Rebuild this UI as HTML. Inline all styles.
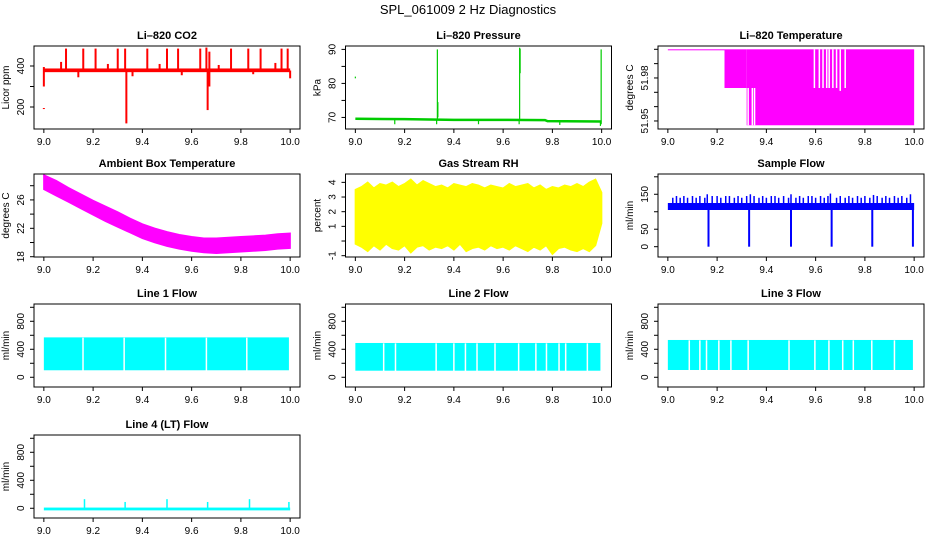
<!DOCTYPE html>
<html><head><meta charset="utf-8"><style>
body{margin:0;background:#fff;}
svg{display:block;font-family:"Liberation Sans",sans-serif;}
</style></head><body>
<svg id="chart" width="936" height="540" viewBox="0 0 936 540">
<text x="468" y="14" text-anchor="middle" font-size="13">SPL_061009  2 Hz Diagnostics</text>
</svg>
<script>
// ---------- data ----------
const xTicks = [9.0, 9.2, 9.4, 9.6, 9.8, 10.0];
const xTickLabels = ["9.0", "9.2", "9.4", "9.6", "9.8", "10.0"];

// CO2
const co2Base = [378, 370, 388];
const co2Spikes = [[9.0,300,395],[9.09,378,485],[9.16,378,485],[9.21,378,485],[9.30,378,485],[9.33,378,485],[9.335,120,378],[9.42,378,485],[9.50,378,485],[9.545,378,485],[9.635,378,485],[9.66,378,490],[9.665,185,378],[9.672,300,470],[9.76,378,485],[9.83,378,485],[9.88,378,485],[9.965,378,485],[9.99,378,485],[10.0,340,378],[9.07,378,420],[9.14,345,378],[9.26,378,410],[9.36,350,378],[9.47,378,410],[9.56,355,378],[9.71,378,405],[9.85,360,378],[9.94,378,415],[9.0,190,195]];
// Pressure
const presX = [9.0, 9.2, 9.4, 9.6, 9.77, 9.78, 10.0];
const presY = [69.6, 69.5, 69.3, 69.3, 69.2, 68.9, 68.8];
const presSpikes = [[9.333,69.3,90],[9.335,70,74.5],[9.667,69.3,90.5],[9.669,83,90.2],[9.998,68,90],[9.16,68,69.5],[9.33,68,69.5],[9.5,68,69.3],[9.665,68,69.3],[9.83,67.8,69],[9.995,67.5,69],[9.0,81.5,82]];
// Li-820 temperature
const tempBlocks = [[9.0,9.23,51.9995,52.0],[9.23,9.32,51.973,52.0],[9.32,10.0,51.947,52.0]];
const tempGaps = [[9.326,51.947,51.973],[9.343,51.947,51.973],[9.352,51.947,51.973],[9.595,51.973,52.0],[9.615,51.973,52.0],[9.63,51.973,52.0],[9.645,51.973,52.0],[9.655,51.973,52.0],[9.67,51.973,52.0],[9.685,51.973,52.0],[9.70,51.971,52.0],[9.72,51.973,52.0]];
// Ambient box temperature
const ambX = [9.0,9.05,9.1,9.15,9.2,9.25,9.3,9.35,9.4,9.45,9.5,9.55,9.6,9.65,9.7,9.75,9.8,9.85,9.9,9.95,10.0];
const ambHigh = [29.5,28.7,27.7,26.8,25.9,25.1,24.3,23.4,22.6,22.0,21.5,21.1,20.8,20.6,20.6,20.7,20.8,20.9,21.0,21.2,21.3];
const ambLow = [27.5,26.6,25.7,24.8,23.9,23.0,22.2,21.4,20.6,20.0,19.5,19.1,18.8,18.6,18.5,18.6,18.7,18.8,18.9,19.1,19.2];
// Gas stream RH
const rhX = [9.0,9.025,9.05,9.075,9.1,9.125,9.15,9.175,9.2,9.225,9.25,9.275,9.3,9.325,9.35,9.375,9.4,9.425,9.45,9.475,9.5,9.525,9.55,9.575,9.6,9.625,9.65,9.675,9.7,9.725,9.75,9.775,9.8,9.825,9.85,9.875,9.9,9.925,9.95,9.975,10.0];
const rhHigh = [3.5,3.7,4.0,3.6,3.9,3.8,4.0,3.7,3.9,4.2,3.8,4.1,3.9,3.7,3.8,3.6,3.9,3.8,3.7,3.9,3.8,3.6,3.8,3.7,3.6,3.9,3.7,3.8,3.9,3.6,3.8,3.5,3.7,3.6,3.8,3.7,3.9,3.7,4.0,4.2,3.3];
const rhLow = [-0.2,-0.4,-0.7,-0.3,-0.6,-0.2,-0.5,-0.6,-0.3,-0.8,-0.4,-0.3,-0.6,-0.4,-0.5,-0.3,-0.6,-0.2,-0.7,-0.5,-0.4,-0.6,-0.3,-0.5,-0.4,-0.6,-0.3,-0.5,-0.7,-0.4,-0.6,-0.3,-0.9,-0.5,-0.4,-0.6,-0.7,-0.5,-0.7,-0.3,1.2];
// Sample flow
const sfBase = [105, 125];
const sfUp = [9.02,9.035,9.05,9.065,9.08,9.1,9.115,9.13,9.15,9.16,9.18,9.2,9.215,9.235,9.25,9.27,9.285,9.3,9.32,9.335,9.35,9.37,9.385,9.4,9.42,9.435,9.45,9.47,9.49,9.5,9.52,9.535,9.55,9.57,9.585,9.6,9.62,9.635,9.65,9.66,9.685,9.7,9.72,9.735,9.75,9.77,9.785,9.8,9.82,9.835,9.85,9.87,9.885,9.9,9.92,9.935,9.95,9.97,9.985];
const sfUpVal = [140,145,140,145,140,145,140,145,140,150,145,145,140,145,145,140,145,140,145,150,145,140,145,140,145,145,140,145,140,150,140,145,140,145,145,140,145,140,145,152,140,145,140,145,140,145,140,145,140,148,145,140,145,140,145,140,145,140,150];
const sfDown = [9.165, 9.33, 9.5, 9.665, 9.83, 9.995];
// Line flows
const l1Band = [100, 570];
const l1Gaps = [9.159, 9.326, 9.494, 9.66, 9.824];
const l2Band = [94, 490];
const l2Gaps = [9.115, 9.163, 9.328, 9.40, 9.447, 9.494, 9.567, 9.663, 9.733, 9.776, 9.827, 9.854, 9.942];
const l3Band = [104, 533];
const l3Gaps = [9.087, 9.13, 9.157, 9.207, 9.256, 9.326, 9.492, 9.597, 9.654, 9.71, 9.753, 9.828, 9.92];
const l4Base = -10;
const l4Spikes = [[9.165,130],[9.33,90],[9.5,130],[9.665,90],[9.835,130],[9.995,90]];

// ---------- drawing ----------
const svg = document.getElementById('chart');
const NS = 'http://www.w3.org/2000/svg';
function mk(tag, attrs, parent){
  const e = document.createElementNS(NS, tag);
  for (const k in attrs) e.setAttribute(k, attrs[k]);
  (parent||svg).appendChild(e);
  return e;
}
const colL = [34, 345.5, 658], rowT = [46, 174, 304, 435], W = 266, H = 83;

function panel(col, row, title, ylab, ydom, yticks, ylabels, name){
  const L = colL[col], T = rowT[row];
  const g = mk('g', {});
  
  
  const sx = v => L + (v - 8.96) / 1.08 * W;
  const sy = v => T + H - (v - ydom[0]) / (ydom[1] - ydom[0]) * H;
  const t = mk('text', {x: L + W/2, y: T - 7, 'text-anchor':'middle', 'font-size':11, 'font-weight':'bold'}, g);
  t.textContent = title;
  
  
  const yl = mk('text', {x: 0, y: 0, transform:`translate(${L-25},${T+H/2}) rotate(-90)`, 'text-anchor':'middle', 'font-size':10}, g);
  yl.textContent = ylab;
  
  
  const plot = mk('g', {}, g);
  
  
  const axes = mk('g', {stroke:'#000', 'stroke-width':1, fill:'none'}, g);
  
  
  mk('rect', {x: L, y: T, width: W, height: H}, axes);
  xTicks.forEach((v, i) => {
    mk('line', {x1: sx(v), x2: sx(v), y1: T+H, y2: T+H+4}, axes);
    const tl = mk('text', {x: sx(v), y: T+H+16, 'text-anchor':'middle', 'font-size':10, stroke:'none', fill:'#000'}, g);
    tl.textContent = xTickLabels[i];
    
    
  });
  yticks.forEach(v => {
    mk('line', {x1: L-4, x2: L, y1: sy(v), y2: sy(v)}, axes);
  });
  ylabels.forEach(v => {
    const tl = mk('text', {x: 0, y: 0, transform:`translate(${L-10},${sy(v)}) rotate(-90)`, 'text-anchor':'middle', 'font-size':10, fill:'#000'}, g);
    tl.textContent = String(v);
    
    
  });
  return {sx, sy, plot};
}
function vline(p, x, y0, y1, color, w){
  const l = mk('line', {x1: p.sx(x), x2: p.sx(x), y1: p.sy(y0), y2: p.sy(y1), stroke: color, 'stroke-width': w||1.5}, p.plot);
  
  
}
function rectD(p, x0, x1, y0, y1, color, nm){
  const r = mk('rect', {x: p.sx(x0), y: p.sy(y1), width: Math.max(1, p.sx(x1)-p.sx(x0)), height: Math.max(1, p.sy(y0)-p.sy(y1)), fill: color}, p.plot);
  
  
}
function band(p, xs, hi, lo, color, nm){
  let d = xs.map((x,i)=>(i?'L':'M')+p.sx(x).toFixed(1)+','+p.sy(hi[i]).toFixed(1)).join('');
  for (let i = xs.length-1; i >= 0; i--) d += 'L'+p.sx(xs[i]).toFixed(1)+','+p.sy(lo[i]).toFixed(1);
  const e = mk('path', {d: d+'Z', fill: color, stroke: color, 'stroke-width':1.5}, p.plot);
  
  
}

// CO2
let p = panel(0, 0, 'Li\u2013820 CO2', 'Licor ppm', [92.7, 497.6], [200,300,400], [200,400], 'co2');
rectD(p, 9.0, 10.0, co2Base[1], co2Base[2], '#ff0000', 'co2-baseline');
co2Spikes.forEach(s => vline(p, s[0], s[1], s[2], '#ff0000', 2));

// Pressure
p = panel(1, 0, 'Li\u2013820 Pressure', 'kPa', [66.6, 91.0], [70,75,80,85,90], [70,80,90], 'pressure');
{
  const d = presX.map((x,i)=>(i?'L':'M')+p.sx(x)+','+p.sy(presY[i])).join('');
  const e = mk('path', {d, fill:'none', stroke:'#00cc00', 'stroke-width':2.5}, p.plot);
  
  
}
presSpikes.forEach(s => vline(p, s[0], s[1], s[2], '#00cc00', 1.2));

// Temperature
p = panel(2, 0, 'Li\u2013820 Temperature', 'degrees C', [51.9444, 52.0023], [51.95,51.96,51.97,51.98,51.99,52.0], ['51.95','51.98'], 'licor-temp');
tempBlocks.forEach(b => rectD(p, b[0], b[1], b[2], b[3], '#ff00ff', 'temp-block'));
tempGaps.forEach(s => vline(p, s[0], s[1], s[2], '#ffffff', 1.5));

// Ambient
p = panel(0, 1, 'Ambient Box Temperature', 'degrees C', [17.96, 29.65], [18,20,22,24,26,28], [18,22,26], 'ambient');
band(p, ambX, ambHigh, ambLow, '#ff00ff', 'ambient-band');

// RH
p = panel(1, 1, 'Gas Stream RH', 'percent', [-1.09, 4.57], [-1,0,1,2,3,4], [-1,1,2,3,4], 'rh');
band(p, rhX, rhHigh, rhLow, '#ffff00', 'rh-band');

// Sample flow
p = panel(2, 1, 'Sample Flow', 'ml/min', [-29.5, 208], [0,50,100,150,200], [0,50,150], 'sample-flow');
rectD(p, 9.0, 10.0, sfBase[0], sfBase[1], '#0000ff', 'sample-flow-base');
sfUp.forEach((x,i) => vline(p, x, sfBase[1], sfUpVal[i], '#0000ff', 1.5));
sfDown.forEach(x => vline(p, x, 0, sfBase[0], '#0000ff', 2));

// Line flows
const lineYT = [0,200,400,600,800,1000], lineYL = [0,400,800], lineDom = [-139, 1047];
[[0,'Line 1 Flow',l1Band,l1Gaps,'line1'],[1,'Line 2 Flow',l2Band,l2Gaps,'line2'],[2,'Line 3 Flow',l3Band,l3Gaps,'line3']].forEach(c => {
  const q = panel(c[0], 2, c[1], 'ml/min', lineDom, lineYT, lineYL, c[4]);
  rectD(q, 9.0, 9.995, c[2][0], c[2][1], '#00ffff', c[4]+'-band');
  c[3].forEach(x => vline(q, x, c[2][0]-5, c[2][1]-5, '#ffffff', 1.5));
});
p = panel(0, 3, 'Line 4 (LT) Flow', 'ml/min', lineDom, lineYT, lineYL, 'line4');
rectD(p, 9.0, 10.0, l4Base-20, l4Base+20, '#00ffff', 'line4-baseline');
l4Spikes.forEach(s => vline(p, s[0], l4Base, s[1], '#00ffff', 1.5));
</script>
</body></html>
